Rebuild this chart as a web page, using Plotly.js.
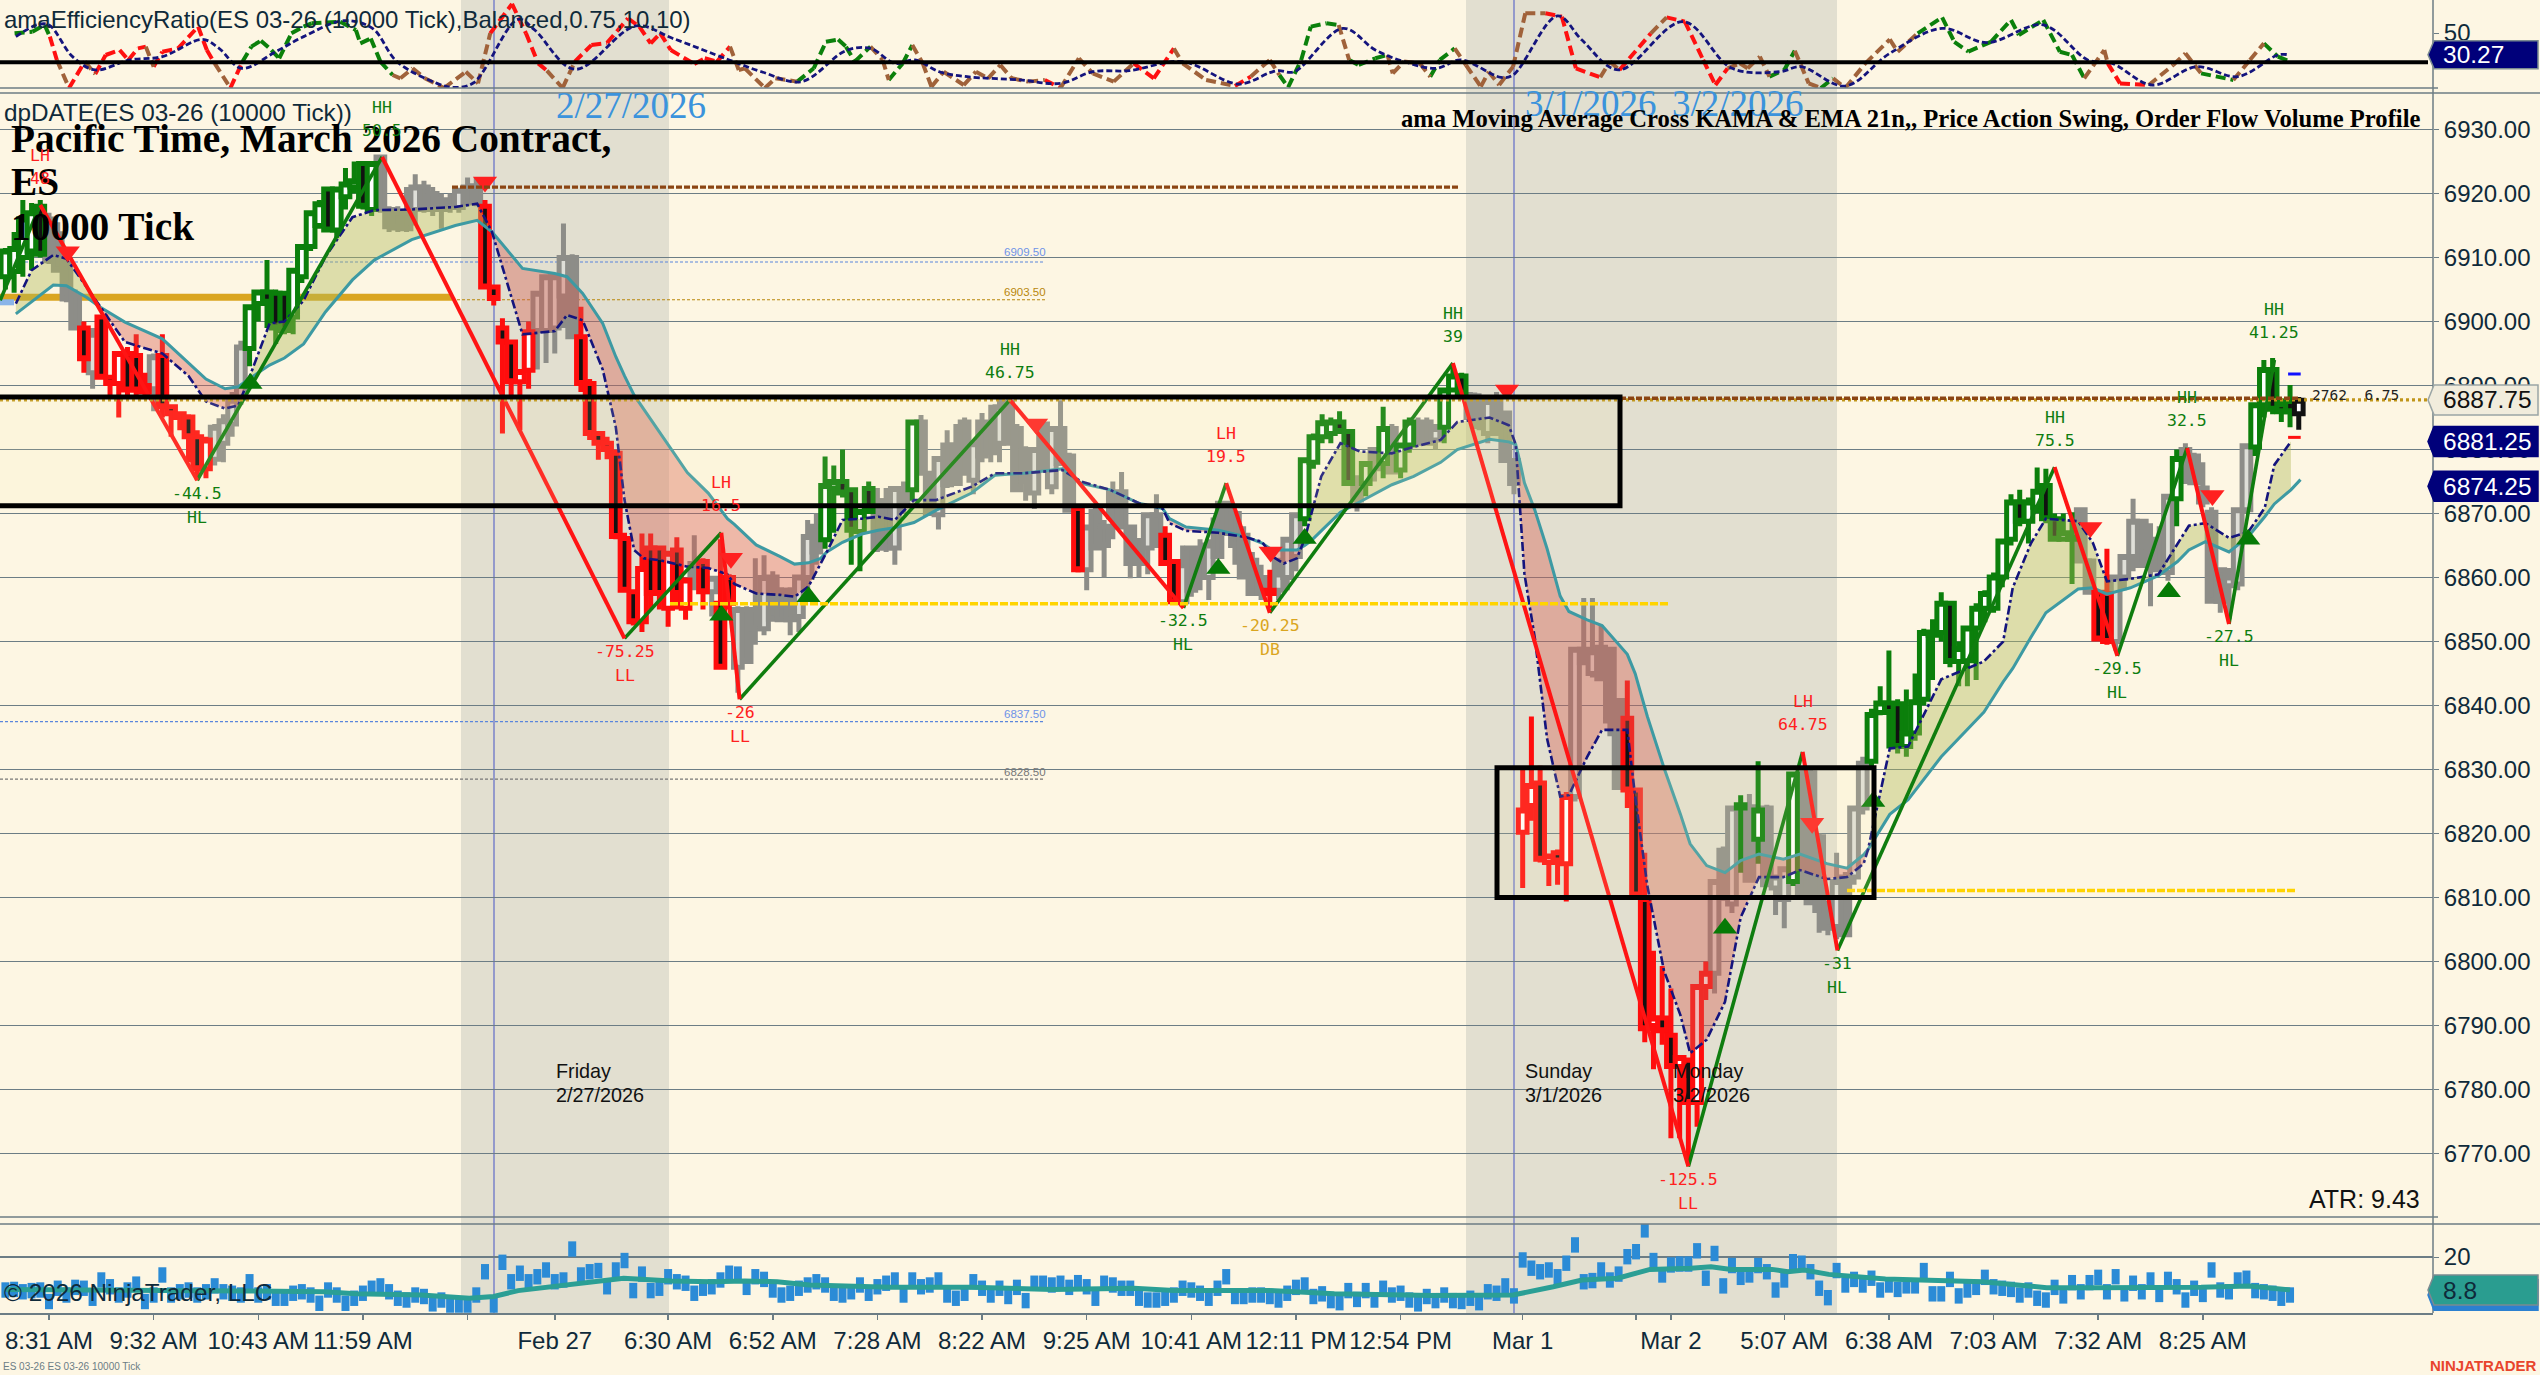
<!DOCTYPE html>
<html><head><meta charset="utf-8">
<script src="https://cdn.plot.ly/plotly-3.0.1.min.js"></script>
<style>html,body{margin:0;padding:0;background:#fdf6e3}#c{width:2540px;height:1375px}</style>
</head><body><div id="c"></div>
<script>
// Candles: [kind, open, high, low, close]  kind g=green r=red n=neutral k=live
const barsThuClose = [
['g',6907,6911.5,6905,6911],['g',6907.8,6914,6904.5,6911.4],['g',6910,6919,6907,6916],['g',6911,6918.5,6908,6917],['g',6918,6919,6910,6910.5],
['n',6916,6917,6909,6909.5],['n',6913.7,6915.5,6908,6908],['n',6909,6910,6903,6903.5],['n',6904,6905,6898.6,6899],['r',6899,6900,6892,6894.2],
['n',6892,6899,6889.5,6898],['r',6900.7,6901,6891,6891.3],['r',6891.3,6891.5,6888,6890.3],['r',6890.3,6895,6885,6895],['r',6895,6896,6888.5,6889.3],
['r',6894.7,6898,6888,6889.3],['r',6890,6892,6888.5,6889],['n',6889.5,6895,6886,6894.5],['r',6894.7,6898,6885,6886.7],['r',6886.7,6887,6882,6885.6],
['r',6885.6,6886,6883,6885],['r',6885.1,6885.5,6878,6882],['r',6882,6883,6875.2,6877],['r',6877,6882,6875.5,6881.5],['n',6878.5,6884,6877.5,6883.5],
['n',6881,6885.5,6878,6884.5],['n',6884,6889,6882,6887.7],['n',6888,6897,6887,6896],['g',6895.8,6902.5,6893,6902.3],['g',6902.8,6905,6900,6904.6],
['g',6904.6,6909.6,6899,6903],['g',6904.4,6905,6896.5,6899],['g',6904.4,6904.6,6898,6898.6],['g',6900.7,6908,6898,6908],['g',6907,6911.7,6906,6911.7],
['g',6911.7,6917,6911,6917],['g',6915,6919,6914.5,6918.4],['g',6920.7,6921,6914,6914.3],['g',6914.3,6921,6913,6920.7],['g',6919.5,6924,6917.5,6921.5],
['g',6921,6925,6920,6922],['g',6924.7,6925,6917.5,6918],['g',6917.5,6925,6916.5,6924.7],['n',6925.7,6926,6917,6917.5],['n',6917.5,6918,6914,6914.8],
['n',6917,6918,6914,6914.6],['n',6917,6921,6914,6914.5],['n',6917.5,6923,6915,6921],['n',6921,6922,6917,6917.5],['n',6920,6921,6916.5,6917.5],
['n',6919,6920,6914.5,6917.5],['n',6919,6920,6917,6917.8],['n',6917.8,6920.5,6917,6920.5],['n',6921,6922.5,6918,6918.5],['n',6921.2,6922.5,6918,6918.6]];
const barsFriMorning = [
['r',6918,6919,6905,6905.4],['r',6905.4,6905.6,6902.5,6903.6],['r',6899,6900.5,6882.5,6896.8],['r',6896.8,6897,6888,6890.6],['r',6890.6,6892.2,6883,6892.2],
['r',6892.4,6900,6889.5,6898.4],['n',6898.6,6904.4,6892.5,6904.4],['n',6898.6,6907,6893.5,6907],['n',6899,6907.5,6895,6907],['n',6904,6915.3,6899,6910],
['n',6910,6910.5,6897.5,6897.6],['r',6897.6,6902.3,6889,6890.3],['r',6890.3,6891,6881.5,6882.5],['r',6882.5,6882.8,6878.4,6881],['r',6881,6882,6878.5,6880],
['r',6879.4,6880,6866,6866.4],['r',6866.1,6867,6858,6858],['r',6857.8,6858,6852.5,6853.1],['r',6853.1,6866.9,6851.5,6861.4],['r',6864.6,6866.9,6855,6857.5],
['r',6864.6,6865,6855,6857.5],['r',6855.2,6864,6852.3,6863.8],['r',6864.3,6866.3,6855,6857.5],['r',6855.2,6860,6853.4,6859.6],['n',6862.2,6866.6,6858,6859.6],
['r',6862.5,6863,6855,6857.8],['n',6857.8,6860,6853.9,6859.9],['r',6856,6866,6846,6846],['r',6860,6860.5,6855,6856],['n',6846,6855.5,6842,6855],
['n',6855,6855.5,6846.5,6846.9],['n',6855,6863,6849.5,6852],['n',6852,6863.5,6851,6860],['n',6860.1,6861,6853.4,6853.5],['n',6858,6858.5,6853,6853.4],
['n',6858,6858.5,6851,6853.4],['n',6853.9,6860,6851.5,6860.1],['n',6860,6869,6858,6866.4],['n',6868,6870,6862,6864]];
const barsFriMidday = [
['g',6865.9,6878.9,6864.5,6874.4],['g',6874,6877.5,6867,6875],['g',6875,6880,6872.5,6873.2],['g',6873.7,6874,6862,6867.4],['g',6867.2,6870.3,6861,6870.3],
['g',6873.9,6875,6870,6870.3],['n',6872,6874,6864,6864.6],['n',6872,6874,6864,6864.6],['n',6864.6,6874,6862,6873.9],['n',6873,6875,6870,6871.5],
['g',6873.7,6884.3,6872,6884.3],['n',6884.3,6885.4,6876.3,6876.3],['n',6876.3,6876.5,6870,6870],['n',6869.8,6878.6,6867.5,6878.6],['n',6880.7,6883,6874,6874.5],
['n',6880.7,6884,6874.5,6874.7],['n',6884.3,6885,6876,6876.3],['n',6875.2,6881,6873,6880.9],['n',6884.3,6885.7,6878,6879],['n',6884,6887,6878,6879.5],
['n',6881,6888,6878,6886.7],['n',6887.4,6888,6881,6881],['n',6883.3,6884,6873.7,6873.7],['n',6880,6880.5,6872,6875],['n',6873.2,6880,6870.7,6880],
['n',6884,6884.5,6876.8,6876.8],['n',6874.2,6883.3,6873,6883.3],['n',6883.3,6887.7,6877.8,6877.8],['n',6879,6879.5,6870.5,6870.5],['r',6870.8,6871,6860.8,6861.2],
['n',6861.2,6867.9,6858,6867.9],['n',6870.3,6871,6864.6,6864.6],['n',6868,6869,6860,6865],['n',6873.2,6875,6866,6869.5],['n',6873.4,6876.5,6867.9,6867.9],
['n',6867.9,6868,6859.9,6862.2],['n',6865.8,6866,6860,6862.2],['n',6864.6,6870,6860.5,6869.8],['n',6869.8,6873,6865,6865],['r',6866.6,6868,6862,6862.2],
['r',6862.5,6862.7,6856,6856.2],['n',6856.2,6865,6855.5,6862],['n',6864.6,6865,6857,6858]];
const barsFriAfternoon = [
['n',6862,6866,6858,6860.1],['n',6860,6866,6856.5,6865.1],['n',6869,6872,6863,6863.3],['n',6871.6,6872,6866.9,6866.9],['n',6870,6870.5,6862,6865],
['n',6866.6,6868,6860.1,6860.1],['n',6862.7,6864,6857.5,6857.5],['n',6860,6862,6856.5,6857.5],['r',6858,6861.2,6855.2,6857.5],['n',6858,6860,6856.5,6862.7],
['n',6860,6866,6858,6866],['n',6863.3,6870,6861,6869.8],['g',6869.2,6878.5,6868,6878.4],['g',6878,6882.5,6877,6882],['g',6882,6885.5,6881,6884.2],
['g',6882.5,6885,6881,6884.3],['g',6884.3,6886,6882.8,6882.8],['g',6882.8,6883,6874.5,6874.7],['n',6875.2,6876,6870.3,6872.1],['g',6874.7,6877.8,6872.7,6877.8],
['n',6880,6880,6875,6877],['g',6877.8,6886.7,6875.5,6883.3],['n',6883.3,6884,6876.5,6876.5],['g',6876.8,6881,6875.5,6880.7],['g',6880.7,6885,6879.5,6884.3],
['n',6884,6885,6881,6881],['n',6884.3,6885,6880.9,6881],['n',6881.5,6884,6880,6883.3],['g',6883.5,6889,6881,6889.3],['g',6889.3,6893,6889,6891.5],
['g',6891.5,6892,6888.7,6888.8],['n',6888.5,6889,6884.5,6885],['n',6887,6888.8,6883,6883.6],['n',6882.5,6888,6881,6887.5],['n',6887.5,6889,6882.5,6882.5],
['n',6885.7,6886,6878.3,6878.3],['n',6878.3,6878.5,6873,6874.7]];
const barsSunMon = [
['r',6820.2,6830,6811.5,6823.7],['r',6824.4,6838.3,6822,6827.5],['r',6827.9,6830.6,6815.5,6816],['r',6815.5,6816.5,6811.8,6816.5],['r',6817,6817.5,6812,6815.7],
['r',6815.3,6826.5,6809.4,6825.8],['n',6825.8,6848.8,6825,6848.8],['n',6848.8,6856.8,6846.7,6846.7],['n',6845,6856.8,6844.4,6848.4],['n',6849.1,6852.6,6844.2,6844.2],
['n',6848.8,6849.1,6835.2,6837.6],['n',6840.8,6841,6827,6827.2],['r',6838,6843.9,6824,6826.8],['r',6826.8,6827,6810,6810.4],['r',6809.7,6817,6787.4,6789.5],
['r',6790,6801.7,6783.2,6791.2],['r',6791.2,6799.3,6787,6789.2],['r',6788.5,6795.8,6772.4,6783.6],['r',6783.6,6785.2,6772.4,6785],['r',6784.6,6785,6768.9,6778],
['r',6778,6796.5,6774.2,6796.1],['r',6796.1,6800,6794,6798.2],['n',6798.2,6812.5,6795,6812.5],['n',6817.4,6818,6809.5,6810.5],['n',6809,6824,6807.6,6824],
['g',6824,6826,6813.9,6824.5],['n',6824.2,6826.2,6812.5,6812.7],['g',6819.1,6831.3,6815.3,6823.7],['n',6824,6824.5,6811.8,6812],['n',6811.5,6813,6807.3,6813.2],
['n',6809.7,6814.5,6805.2,6814.5],['g',6812.5,6829.3,6811.8,6829.3],['n',6829.3,6830,6810,6810],['n',6829.5,6830,6809,6809.2],['n',6819.5,6820,6804.5,6808],
['n',6809,6809.5,6804.1,6805.2],['n',6805.5,6817,6803.5,6812.5],['n',6813.2,6814,6804,6804.2],['n',6813.2,6824,6812,6824],['n',6824,6832,6823,6831]];
const barsMonMorning = [
['g',6831.3,6839.5,6830.5,6838.6],['g',6838.9,6843,6838.5,6840.4],['g',6840.4,6848.6,6833.3,6838.9],['g',6840.3,6841,6832.5,6833.6],['g',6833.6,6842.5,6832,6835.7],
['g',6835.7,6845,6834.5,6840.6],['g',6841,6852,6840,6851.4],['g',6851,6853.5,6844,6851.5],['g',6851.4,6857.7,6850,6856],['g',6856,6856.3,6846,6846.9],
['g',6846.9,6850,6843,6848.9],['g',6847,6852.1,6843,6852.1],['g',6852.1,6856,6844,6855.2],['g',6855.2,6858,6853,6857.5],['g',6855.2,6860.8,6854.5,6860.1],
['g',6860.1,6866,6858.5,6865.7],['g',6866,6873,6865,6871.8],['g',6871.8,6873.7,6868,6868.8],['g',6868.8,6872.5,6865.3,6871.8],['g',6871,6877.2,6870,6873.5],
['g',6874.4,6877,6868.5,6869.2],['g',6869.2,6870,6866,6866],['g',6866,6870,6866,6867],['g',6866.3,6870.2,6859,6866],['n',6870.6,6870.8,6862.5,6862.6],
['n',6862.6,6863,6857.5,6857.7],['r',6857.7,6858,6850,6850.4],['r',6857.5,6864.5,6849.5,6850],['n',6850,6860.3,6848.6,6860.1],['n',6860.1,6863.5,6858,6863.3],
['n',6863.3,6872.3,6861,6868.8],['n',6868.8,6869,6861.9,6861.9],['n',6864,6868.5,6855.5,6862],['n',6866,6868,6861,6861.2],['n',6860.8,6873,6859.5,6872.7],
['g',6872.3,6880,6868,6878.6],['n',6880,6881,6875,6875],['n',6879,6879.5,6874.8,6874.8],['n',6874,6878,6871,6871.8],['n',6870.2,6871,6856.3,6856.3],
['n',6861.2,6861.5,6854.5,6856.3],['n',6858.7,6861.5,6853.5,6860.1],['n',6859,6870.8,6858,6870.6],['n',6870.6,6881,6870,6880.6],['g',6880.4,6887.2,6879,6887],
['g',6887,6894,6885,6892.5],['g',6892.5,6894.3,6885.5,6886.3],['g',6887,6888,6884.3,6885.9],['g',6887.5,6890.1,6883.5,6885.9],['k',6885.6,6888.2,6883.1,6887.7]];

// Time axis
const tickBars = [5,17,29,41,53,63,76,88,100,112,124,136,148,160,174,187,191,204,216,228,240,252];
const tickTexts = ['8:31 AM','9:32 AM','10:43 AM','11:59 AM','','Feb 27','6:30 AM','6:52 AM','7:28 AM','8:22 AM','9:25 AM','10:41 AM','12:11 PM','12:54 PM','Mar 1','','Mar 2','5:07 AM','6:38 AM','7:03 AM','7:32 AM','8:25 AM'];

// KAMA / EMA 21 moving averages
const maBars = [1.2,3,5.5,7,9.3,10.8,13.7,18,21,23,25.2,26.7,27.9,30.3,32,34.2,36.7,39.8,42.3,46.6,51.6,54.1,55.8,59.3,63,64.4,66.2,68.5,70,71,72.1,73.2,75.1,78.2,80.6,82.8,83.6,86.1,88.8,90.5,92.1,93.5,94.2,96,98.2,100.1,102,104.2,106.7,110.8,113.5,116.8,121.2,123.4,126.7,130,132.7,133.5,135.4,139.1,142.2,144.1,145.3,146.6,148.1,149,149.7,150.9,153.1,155.3,159,161.5,164.6,166.5,170.2,172.4,173.2,173.7,174.2,175.4,176.8,178.3,179.3,181.4,183.1,186,186.9,188.3,190.2,192.1,193.2,195.1,197.2,199,201.1,203.9,205.8,208.9,211.2,213.1,213.6,216.1,218.2,222,226.9,229.1,230.2,232.3,234,237.7,239.4,241,243.7,246.9,249.1,250.4,252.3,255,257.2,259.1,260.2,262.1];
const kamaValues = [6902.8,6908,6910.4,6909.8,6905.4,6902.4,6896.8,6895,6891.5,6887.5,6886.4,6886.9,6891,6899.7,6900,6903.3,6910.1,6916.3,6917.4,6917.5,6917.9,6918.4,6914,6898,6898.5,6901,6900.2,6892.5,6883.5,6872.1,6864.3,6863,6862.7,6861.7,6861.5,6860.5,6859,6857.5,6857.3,6857,6858.6,6862.2,6864,6869,6869.2,6869.5,6869,6872.1,6872.1,6874.2,6876.3,6876.3,6876.8,6875,6873.7,6871.6,6870.8,6868.5,6867.3,6867,6866.3,6865.6,6863.3,6862.2,6863,6866,6869.5,6875.8,6881,6879.7,6879.4,6880.4,6881.5,6884.3,6885,6883.8,6880.8,6871,6860.6,6850.5,6834.8,6825.8,6826,6832,6836.2,6836.2,6825.8,6811.8,6798.6,6791.6,6785.7,6787.8,6793.7,6806.9,6813.2,6813.2,6814.3,6812.9,6813.2,6815.3,6817.5,6833.3,6833.6,6844.1,6846.9,6850,6858.4,6865.4,6869.2,6868.8,6865.4,6859.4,6859.8,6860.5,6865.4,6868.1,6868.5,6866.2,6867.1,6870.9,6877.6,6881.25];
const emaValues = [6901.2,6903.1,6905.7,6905.6,6903.8,6902.3,6899.9,6897.3,6893.6,6891,6889.5,6889.8,6891,6893.2,6894.3,6896.5,6901.5,6906.5,6909.6,6912.8,6915,6915.8,6914,6908.3,6907.5,6907,6904.4,6899.7,6894.5,6891.5,6888.5,6886.3,6882.5,6876.4,6873.2,6869.2,6868.3,6865.1,6863.3,6862.1,6862.3,6863,6864,6865.5,6866.8,6867.4,6867.8,6868.6,6870.5,6873.2,6876,6876.3,6877,6874.7,6873.7,6871.6,6870.8,6869.2,6867.9,6867.4,6866.4,6865.4,6864.3,6864.3,6864.3,6865,6865.7,6867.3,6870.2,6871.8,6874.5,6875.8,6878,6880,6881.6,6881.2,6880.8,6878,6874.8,6870.5,6864.5,6857.1,6854.7,6853.4,6852.5,6848,6845,6838.3,6830.3,6823,6818.4,6815,6813.9,6815.8,6816.8,6816,6816.8,6815.3,6814.6,6816.7,6817.5,6823,6825.3,6832,6839,6843.7,6845.8,6850.7,6854.5,6858.2,6858.4,6857.4,6858.4,6860.3,6862.5,6864.3,6865.6,6864,6866.4,6869.5,6871.5,6873.7];
const emaLastBar = 263.2, emaLastValue = 6875.3;

// Price action swing pivots
const swingBars   = [-0.6,4,22,43.2,71,82.1,84.2,115.2,135.1,140,145,166,193,206.1,210.1,235,242.2,250.2,255,260.2];
const swingPrices = [6903.3,6918.2,6875.2,6925.7,6850.5,6867,6841,6887.75,6855.25,6874.75,6854.5,6893.5,6768,6832.75,6801.75,6877.25,6847.75,6880.25,6852.75,6894];
const swingTypes  = ['','LH','HL','HH','LL','LH','LL','HH','HL','LH','DB','HH','LL','LH','HL','HH','HL','HH','HL','HH'];
const swingDeltas = ['','48','-44.5','50.5','-75.25','16.5','-26','46.75','-32.5','19.5','-20.25','39','-125.5','64.75','-31','75.5','-29.5','32.5','-27.5','41.25'];

// Cross signals
const sellBars = [7.15,55,83.2,118.2,145.1,172.2,207.2,239.1,253.1];
const sellPrices = [6910.9,6921.8,6863,6884,6864,6889.3,6821.6,6867.8,6872.8];
const buyBars = [28.1,82.1,92.1,139.1,149,197.2,214.2,248.1,257.2];
const buyPrices = [6890.3,6854.1,6857,6861.4,6866.1,6805.2,6825,6857.8,6866];

// Efficiency ratio
const erBars = [1.05,3.1,4.5,5.1,5.9,7.3,9.1,10.3,11.5,13.1,14.1,15.2,16.1,17,18,19.8,22.1,23.1,24,25.8,27.2,28.2,29.3,30.5,31.4,32.8,34.2,35.1,38.4,40.2,40.7,41.9,43,44.4,45.3,46.7,48.1,50.3,52.8,54.2,55.6,58.1,59.7,61.1,62.1,63.9,65.3,67.2,69,71.4,72.7,74,75.1,76.3,79,80.2,81.6,83.1,84.1,84.8,87.1,88.3,90.8,92.7,94.1,95.5,96.4,97.4,99.2,100.6,101.3,102.9,104,105.2,106.2,107.6,109.9,111.3,112.7,114.1,115.4,117.3,119.2,121,123.1,124.7,127.1,129.4,131.7,134,135,137.7,141,142.8,145,146.1,147.1,148.6,149.7,151.5,152.9,154.1,155.2,157.1,158.5,159.1,160.4,162.2,163.4,164.5,166.2,167.5,169.2,170.1,171.3,172.9,174.3,176.6,178.5,180.1,182.9,184,185.1,188.7,190.5,192.6,194.7,196.1,197.5,198.9,199.8,201.2,202.3,204,205.2,206.8,208.2,209.6,211,213.3,216.1,217,219.3,222.1,223.5,225.1,227.7,230,230.9,233.7,235.6,237,238.4,240.7,241.1,242.5,245.8,248.6,250,251.8,255.5,257.4,259,260.6,261.8];
const erValues = [49.7,51.2,57.3,46.7,25.5,0,24,12.7,30,34.5,25.5,36,37.6,19.4,33,36,55.8,34.5,22.4,0,24,37.6,43,34.5,27,49.7,55.8,58.8,60.3,52.7,40.6,45,24,11.8,8.8,17.9,8.8,0,14.8,4.2,49.7,76.4,49.7,22.4,15.8,0,24,39,41,63.3,55.8,40.6,49.7,34.5,21.8,27,24,37.6,16.4,17.9,0,8.8,5.8,17.9,42,44,37.6,24,37.6,25.5,7.3,22.4,39,22.4,1.2,14.8,2.7,14.8,8.8,20.9,8.8,5.8,7.3,0,27,13.3,5.8,22.4,8.8,36,22.4,7.3,1.8,10.3,25.5,11.8,0.6,25.5,55.8,58.8,57.3,25.5,20.9,27,30,13.3,24,22.4,10.3,25.5,36,20.9,1.2,14.8,2.7,19.4,67.9,67.9,64.8,17.9,9.7,24,16.4,49.7,64.2,60.3,25.5,2.7,17.9,22.4,17.9,28.5,10.3,16.4,33.9,4.2,0,8.8,0,22.4,44.2,33,49.7,64.2,42,33,42,61.8,48.2,61.8,33,30,8.8,34.5,22.4,4.2,2.7,20.9,31.5,13.3,7.3,25.5,40.6,28.5,24.8];
const erStates = 'ggggrbrbrrrrrbrrrrrbrgggggggggggggbbbbbbbrrrrbbrrrrrrrrrrrbbbbbggggggbbggbbbbbbbbbbrbbbbrrbbbrbbgggggbgggbbbbggbbbbbbbrrrbbrbrrrrbbbbggbbgbbbbbggggggggggbbrrbbbgbbgggg';
const erSignalBars = [1.2,3.6,5,7.7,10.3,14.2,18,22.6,24.5,27.1,31,34.2,38.8,42.1,44.9,49.5,51.4,53.7,58.8,60.7,65.3,72.3,76.5,83,86.7,91.3,96.4,99.2,102,104.3,107.1,110.3,116.4,121,124.7,128.9,135,141.4,145,146,147.8,153.4,157.1,160.4,164.1,166.9,171.5,172.9,178,180.8,185,192.4,198,203.5,205.9,211,216.1,222.1,227.2,233.7,238.8,241.6,246.2,251.3,256,260.6,261.8];
const erSignalValues = [46.7,57.3,57.3,28.5,16.4,25.5,28.5,44.2,36,17.9,33,46.7,61.2,54.2,24,4.2,0.6,4.8,62.4,52.7,17,56.4,45.2,25.5,14.8,5.8,34,36,22.4,25.5,14.8,10.3,7.3,4.2,14.8,15.8,24,3.6,13.9,15.8,14.8,54.2,34.5,24,17.9,25.5,9.7,11.8,65.5,43.6,16.4,60.3,17.9,14.8,19.4,1.8,31.5,54.2,41.2,57.3,25.5,22.4,2.7,19.4,10.3,30,30.27];

// Order flow volume
const volumeFirst = [8.8,9,8.2,8.6,8.8,4.9,9.4,7.1,9.7,9.4,6,12.2,9.9,7.1,8.8,10.8,4.9,7.1,13.9,7.1,8.2,8.8,7.1,8.2,10.2,8.2,7.7,7.1,11.6,7.1,8.2,6,6,7.7,8.2,7.1,4.3,8.8,7.1,4.3,6,7.7,9.4,10.2,8.2,6,5.4,7.1,6.6,4.1,5.4,3.7,3.7,3.7];
const volumeFriday = [7.1,15,3.7,18.2,11.6,14.5,11.6,13.3,15.6,11.6,12.2,22.7,13.9,15,15.4,9.9,15.6,18.8,8.6,14.2,8.6,9.4,13.3,11.6,11.1,7.7,9.4,9.9,12.2,14.5,14.2,9.7,13.3,12.4,8.8,7.1,7.7,9.4,10.5,11.6,10.5,7.7,7.1,8.2,10.5,7.7,9.9,11.1,12.2,7.1,12.2,9.9,10.5,12.2,7.1,6,7.7,11.6,9.4,7.1,9.4,6.6,9.7,5.2,11.1,11.1,10.5,11.1,9.7,11.3,9.9,6,11.1,10.5,9.4,9.4,6,5.4,5.4,6,7.1,9.4,8.8,7.7,6,9.4,13.3,6.6,6.6,7.1,7.1];
const volumeLast = [6.6,5.4,7.7,9.7,10.5,6.6,7.5,5.2,4.5,8.6,5.6,8.6,5.4,9.4,7.1,7.7,5.4,4.1,6.6,5.2,7.1,5.2,4.9,6,4.5,8.2,7.7,10.2,6.8,19,16.2,15,15.6,13.3,17.9,24.1,11.6,12,15.6,12.2,14.2,20.1,21.8,29.2,18.8,13.9,17.3,17.6,17.6,22.1,12.8,21.2,10.2,17.1,13.1,13.9,17.1,15,8.8,12.2,18.4,17.9,15,9.4,6.2,15.4,10.5,12.4,10.5,12.8,8.8,10.5,9,10.2,10.2,15.4,7.5,7.5,12.4,6.8,8.8,9.7,13.1,9.9,9.4,9,7.1,8.8,6,5.4,9.7,6.8,11.3,8.2,11.3,13.1,8.2,13.3,7.5,11.1,8.2,12.2,7.3,12.4,9.9,5.4,9.4,7.3,15.6,8.8,8.2,12.2,12.8,8.6,8.2,7.7,6,7.1];
const volumeAvgBars = [0,8.7,18,27.2,36.5,40.2,47.7,53.2,56,58.8,64.4,70.9,76.4,81.1,84.8,88.5,92.2,101.5,110.8,120.1,129.4,134,145,152.4,163.6,172.9,177.5,180.8,184.9,188.6,193.3,195.6,197.9,202.6,204.4,206.3,209.1,215.6,226.7,234.1,239.7,251.8,257.3,262];
const volumeAvgValues = [9,9,8.6,8.5,8.2,7.5,7.1,6,6.6,8.6,10.5,12.8,11.9,11.6,11.9,11.6,10.5,9.7,9.7,9,9.4,8.6,8.6,7.5,6.9,7.1,9.9,12.2,12.8,15.8,16.2,16.7,15.8,15.8,15,15.6,14.1,12.5,11.6,9.6,9.6,9.7,10.2,8.8];

// Colours
const INK='#0f2a3a', GRID='#6c7d85', BG='#fdf6e3';
const RED='#ff0d0d', GREEN='#0b7f0b', GRAY='#8d8d88';
const W=2433, H=1313;
const px=x=>x/W, py=y=>1-y/H, barAt=x=>(x-5.4)/8.72;

const allBars=[...barsThuClose,...barsFriMorning,...barsFriMidday,...barsFriAfternoon,...barsSunMon,...barsMonMorning];
function candles(kind,color,upFill,downFill,w){
  const idx=[];allBars.forEach((b,i)=>{if(b[0]===kind)idx.push(i)});
  return {type:'candlestick',x:idx,open:idx.map(i=>allBars[i][1]),high:idx.map(i=>allBars[i][2]),low:idx.map(i=>allBars[i][3]),close:idx.map(i=>allBars[i][4]),
    yaxis:'y2',hoverinfo:'skip',showlegend:false,whiskerwidth:0,
    increasing:{line:{color:color,width:w},fillcolor:upFill},decreasing:{line:{color:color,width:w},fillcolor:downFill}};
}
const traces=[
  candles('n',GRAY,'#dfdfd8',GRAY,5),
  candles('g',GREEN,'#ffffff','#111111',5),
  candles('r',RED,'#ffffff','#111111',5),
  candles('k','#111111','#ffffff','#111111',5)
];
// MA band fills
function bandFill(posColor,negColor){
  let k=0;
  while(k<maBars.length-1){
    const sign=(kamaValues[k]+kamaValues[k+1])-(emaValues[k]+emaValues[k+1])>=0;
    let e=k+1;
    while(e<maBars.length-1&&((kamaValues[e]+kamaValues[e+1])-(emaValues[e]+emaValues[e+1])>=0)===sign)e++;
    const xs=maBars.slice(k,e+1), a=kamaValues.slice(k,e+1), b=emaValues.slice(k,e+1);
    traces.push({type:'scatter',mode:'lines',x:xs.concat(xs.slice().reverse()),y:a.concat(b.slice().reverse()),fill:'toself',fillcolor:sign?posColor:negColor,line:{width:0},yaxis:'y2',hoverinfo:'skip',showlegend:false});
    k=e;
  }
}
bandFill('rgba(176,186,90,0.42)','rgba(214,92,80,0.40)');
traces.push({type:'scatter',mode:'lines',x:maBars.concat([emaLastBar]),y:emaValues.concat([emaLastValue]),yaxis:'y2',line:{color:'#3d9aa3',width:3},hoverinfo:'skip',showlegend:false});
traces.push({type:'scatter',mode:'lines',x:maBars,y:kamaValues,yaxis:'y2',line:{color:'#14147d',width:2.6,dash:'dashdot'},hoverinfo:'skip',showlegend:false});
// Swing lines
function swingSeg(start,color,w){
  const xs=[],ys=[];
  for(let k=start;k<swingBars.length-1;k+=2){xs.push(swingBars[k],swingBars[k+1],null);ys.push(swingPrices[k],swingPrices[k+1],null);}
  traces.push({type:'scatter',mode:'lines',x:xs,y:ys,yaxis:'y2',line:{color:color,width:w},hoverinfo:'skip',showlegend:false});
}
swingSeg(0,'#0f7d0f',3.6);swingSeg(1,'#ff1414',4);
traces.push({type:'scatter',mode:'markers',x:sellBars,y:sellPrices,yaxis:'y2',marker:{symbol:'triangle-down',size:21,color:'#ff2020',line:{width:0}},hoverinfo:'skip',showlegend:false});
traces.push({type:'scatter',mode:'markers',x:buyBars,y:buyPrices,yaxis:'y2',marker:{symbol:'triangle-up',size:21,color:'#067a06',line:{width:0}},hoverinfo:'skip',showlegend:false});
traces.push({type:'scatter',mode:'markers',x:[262.5],y:[6891.8],yaxis:'y2',marker:{symbol:'line-ew',size:9,line:{width:3,color:'#1010ff'}},hoverinfo:'skip',showlegend:false});
traces.push({type:'scatter',mode:'markers',x:[262.5],y:[6881.9],yaxis:'y2',marker:{symbol:'line-ew',size:9,line:{width:3,color:'#ff1010'}},hoverinfo:'skip',showlegend:false});
// Efficiency ratio segments
const erColor={g:'#0b800b',r:'#ff1010',b:'#a0623a'};
Object.keys(erColor).forEach(c=>{
  const xs=[],ys=[];
  for(let k=1;k<erBars.length;k++){ if(erStates[k]===c){xs.push(erBars[k-1],erBars[k],null);ys.push(erValues[k-1],erValues[k],null);} }
  traces.push({type:'scatter',mode:'lines',x:xs,y:ys,yaxis:'y3',line:{color:erColor[c],width:4,dash:'10px,5px'},hoverinfo:'skip',showlegend:false});
});
traces.push({type:'scatter',mode:'lines',x:erSignalBars,y:erSignalValues,yaxis:'y3',line:{color:'#14147d',width:2.8,dash:'6px,3px',shape:'spline'},hoverinfo:'skip',showlegend:false});
// Volume
const volumes=[...volumeFirst,...volumeFriday,...volumeLast];
traces.push({type:'scatter',mode:'markers',x:volumes.map((_,i)=>i),y:volumes,yaxis:'y',marker:{symbol:'line-ns',size:11,line:{width:8,color:'#2b8bd6'}},hoverinfo:'skip',showlegend:false});
traces.push({type:'scatter',mode:'lines',x:volumeAvgBars,y:volumeAvgValues,yaxis:'y',line:{color:'#2b9f95',width:5},hoverinfo:'skip',showlegend:false});

// Shapes
const hline=(ref,y,x0,x1,color,w,dash,layer)=>({type:'line',xref:'x',yref:ref,x0:x0,x1:x1,y0:y,y1:y,line:{color:color,width:w,dash:dash||'solid'},layer:layer||'above'});
const xMin=barAt(0), xMax=barAt(W);
const shapes=[
 {type:'rect',xref:'x',yref:'paper',x0:barAt(461),x1:barAt(669),y0:0,y1:1,fillcolor:'rgba(8,37,54,0.11)',line:{width:0},layer:'below'},
 {type:'rect',xref:'x',yref:'paper',x0:barAt(1466),x1:barAt(1837),y0:0,y1:1,fillcolor:'rgba(8,37,54,0.11)',line:{width:0},layer:'below'},
 {type:'line',xref:'x',yref:'paper',x0:barAt(494),x1:barAt(494),y0:0,y1:1,line:{color:'#6a74c8',width:1.3},layer:'below'},
 {type:'line',xref:'x',yref:'paper',x0:barAt(1514),x1:barAt(1514),y0:0,y1:1,line:{color:'#6a74c8',width:1.3},layer:'below'},
 {type:'line',xref:'paper',yref:'paper',x0:1,x1:1,y0:0,y1:1,line:{color:GRID,width:1.5},layer:'above'},
 {type:'line',xref:'paper',yref:'paper',x0:0,x1:px(2438),y0:py(88),y1:py(88),line:{color:GRID,width:1.6},layer:'above'},
 {type:'line',xref:'paper',yref:'paper',x0:0,x1:px(2540),y0:py(93),y1:py(93),line:{color:GRID,width:1.6},layer:'above'},
 {type:'line',xref:'paper',yref:'paper',x0:0,x1:px(2438),y0:py(1217),y1:py(1217),line:{color:GRID,width:1.6},layer:'above'},
 {type:'line',xref:'paper',yref:'paper',x0:0,x1:px(2540),y0:py(1224),y1:py(1224),line:{color:GRID,width:1.6},layer:'above'},
 // levels
 hline('y2',6903.8,xMin,barAt(452),'#daa520',7,'solid','below'),
 hline('y2',6903.4,barAt(452),barAt(1045),'#b8860b',1.2,'3px,2px','below'),
 hline('y2',6909.3,xMin,barAt(1045),'#5b86dc',1.2,'3px,2px','below'),
 hline('y2',6903,xMin,barAt(14),'#8ab4e8',6,'solid','below'),
 hline('y2',6837.5,xMin,barAt(1045),'#5b86dc',1.2,'3px,2px','below'),
 hline('y2',6828.5,xMin,barAt(1045),'#777777',1.2,'3px,2px','below'),
 hline('y2',6921,barAt(452),barAt(1460),'#8b4513',3.4,'6px,2px'),
 hline('y2',6887.75,xMin,xMax,'#c0951a',3.4,'3px,3px'),
 hline('y2',6888,barAt(1620),barAt(2300),'#8b4513',3.4,'6px,2px'),
 hline('y2',6855.9,barAt(670),barAt(1668),'#ffd400',3.6,'8px,2px'),
 hline('y2',6811.1,barAt(1847),barAt(2295),'#ffd400',3.6,'8px,2px'),
 hline('y3',23.4,xMin,barAt(2428),'#000000',4.2),
 {type:'rect',xref:'x',yref:'y2',x0:xMin-1,x1:barAt(1620),y0:6871.2,y1:6888.2,line:{color:'#000',width:5},fillcolor:'rgba(250,235,170,0.12)',layer:'above'},
 {type:'rect',xref:'x',yref:'y2',x0:barAt(1497),x1:barAt(1874),y0:6810,y1:6830.3,line:{color:'#000',width:5},fillcolor:'rgba(250,235,170,0.12)',layer:'above'}
];
function tag(ref,val,half,fill,border){
  const a=px(2428),b=px(2434),c=px(2538);
  return {type:'path',xref:'paper',yref:ref,path:`M ${a},${val} L ${b},${val+half} L ${c},${val+half} L ${c},${val-half} L ${b},${val-half} Z`,fillcolor:fill,line:{color:border,width:1.5},layer:'above'};
}
shapes.push(tag('y',7.1,5.2,'#2b80d0','#2b80d0'));
shapes.push(tag('y',8.8,5.1,'#2a9d90','#7a8a90'));
shapes.push(tag('y3',30.27,12.7,'#00007a','#7a8a90'));
shapes.push(tag('y2',6887.75,2.34,'#f1ecdc','#9aa5a5'));
shapes.push(tag('y2',6881.25,2.34,'#00007a','#00007a'));
shapes.push(tag('y2',6874.25,2.34,'#00007a','#00007a'));

// Annotations
const SANS='"Liberation Sans",Arial,sans-serif', SERIF='"Liberation Serif",serif', MONO='"DejaVu Sans Mono",monospace';
const note=(text,x,y,size,color,family,anchor,extra)=>Object.assign({text:text,xref:'paper',yref:'paper',x:px(x),y:py(y),xanchor:anchor||'left',yanchor:'middle',showarrow:false,font:{size:size,color:color,family:family},align:'left',borderpad:0,borderwidth:0},extra||{});
const ann=[
 note('amaEfficiencyRatio(ES 03-26 (10000 Tick),Balanced,0.75,10,10)',4,20,24,INK,SANS),
 note('dpDATE(ES 03-26 (10000 Tick))',4,113,24.3,INK,SANS),
 note('<b>Pacific Time, March 2026 Contract,</b>',11,139,39.3,'#000',SERIF),
 note('<b>ES</b>',11,182,39.3,'#000',SERIF),
 note('<b>10000 Tick</b>',11,227,39.3,'#000',SERIF),
 note('2/27/2026',556,105,37,'#3b93dc',SERIF),
 note('3/1/2026',1525,104,37,'#3b93dc',SERIF),
 note('3/2/2026',1672,104,37,'#3b93dc',SERIF),
 note('<b>ama Moving Average Cross KAMA &amp; EMA 21n,, Price Action Swing, Order Flow Volume Profile</b>',2420,118,24.6,'#000',SERIF,'right'),
 note('Friday',556,1071,19.8,'#111',SANS),note('2/27/2026',556,1095,19.8,'#111',SANS),
 note('Sunday',1525,1071,19.8,'#111',SANS),note('3/1/2026',1525,1095,19.8,'#111',SANS),
 note('Monday',1673,1071,19.8,'#111',SANS),note('3/2/2026',1673,1095,19.8,'#111',SANS),
 note('ATR: 9.43',2420,1199,25,'#111',SANS,'right'),
 note('2762  6.75',2312,395,14.5,'#222',MONO),
 note('© 2026 NinjaTrader, LLC',4,1292,24.3,INK,SANS),
 note('ES 03-26 ES 03-26 10000 Tick',3,1366,10,'#6c7d85',SANS),
 note('<b>NINJATRADER</b>',2537,1365,15,'#e8452c',SANS,'right'),
 note('6909.50',1025,252,11.5,'#6f93e8',SANS,'center'),
 note('6903.50',1025,292,11.5,'#b8860b',SANS,'center'),
 note('6837.50',1025,714,11.5,'#6f93e8',SANS,'center'),
 note('6828.50',1025,772,11.5,'#777',SANS,'center')
];
const tagNote=(t,yref,v,c)=>({text:t,xref:'paper',yref:yref,x:px(2441),y:v,xanchor:'left',yanchor:'middle',showarrow:false,font:{size:24.5,color:c,family:SANS}});
ann.push(tagNote('6887.75','y2',6887.75,'#111'),tagNote('6881.25','y2',6881.25,'#fff'),tagNote('6874.25','y2',6874.25,'#fff'),tagNote('30.27','y3',30.27,'#fff'),tagNote('8.8','y',8.8,'#0f2a3a'));
const labelColor={LH:'#ff2020',LL:'#ff2020',HH:'#0f7d0f',HL:'#0f7d0f',DB:'#daa520'};
swingBars.forEach((b,k)=>{
  if(!swingTypes[k])return;
  const up=swingPrices[k]>swingPrices[k-1]||k===1, col=labelColor[swingTypes[k]];
  const s1=up?27:-13, s2=up?50:-37;
  const mk=(t,s)=>({text:t,xref:'x',yref:'y2',x:b,y:swingPrices[k],yshift:s,xanchor:'center',yanchor:'middle',showarrow:false,font:{size:16.5,color:col,family:MONO}});
  ann.push(mk(swingDeltas[k],s1),mk(swingTypes[k],s2));
});

const priceTicks=[6770,6780,6790,6800,6810,6820,6830,6840,6850,6860,6870,6880,6890,6900,6910,6920,6930];
const tf={size:24,color:INK,family:SANS};
const layout={
 width:2540,height:1375,autosize:false,paper_bgcolor:BG,plot_bgcolor:BG,showlegend:false,
 margin:{l:0,r:107,t:0,b:62,pad:0},boxmode:'overlay',boxgap:0,boxgroupgap:0,
 xaxis:{domain:[0,1],range:[xMin,xMax],anchor:'y',tickmode:'array',tickvals:tickBars,ticktext:tickTexts,ticks:'outside',ticklen:5,tickwidth:1.5,tickcolor:GRID,tickfont:tf,showgrid:false,zeroline:false,showline:true,linecolor:GRID,linewidth:2,rangeslider:{visible:false},fixedrange:true,tickangle:0},
 yaxis:{domain:[0,89/H],range:[1,31.2],anchor:'x',side:'right',tickmode:'array',tickvals:[20],ticktext:['20'],tickfont:tf,ticks:'outside',ticklen:5,tickcolor:GRID,gridcolor:GRID,gridwidth:1.6,zeroline:false,showline:false,fixedrange:true},
 yaxis2:{domain:[96/H,(H-93)/H],range:[6760.1,6935.7],anchor:'x',side:'right',tickmode:'array',tickvals:priceTicks,ticktext:priceTicks.map(v=>v.toFixed(2)),tickfont:tf,ticks:'outside',ticklen:5,tickcolor:GRID,gridcolor:GRID,gridwidth:1.6,zeroline:false,showline:false,fixedrange:true},
 yaxis3:{domain:[(H-88)/H,1],range:[0,80],anchor:'x',side:'right',tickmode:'array',tickvals:[50],ticktext:['50'],tickfont:tf,ticks:'outside',ticklen:5,tickcolor:GRID,showgrid:false,zeroline:false,showline:false,fixedrange:true},
 shapes:shapes,annotations:ann,hovermode:false
};
Plotly.newPlot('c',traces,layout,{displayModeBar:false,staticPlot:true});
</script></body></html>
